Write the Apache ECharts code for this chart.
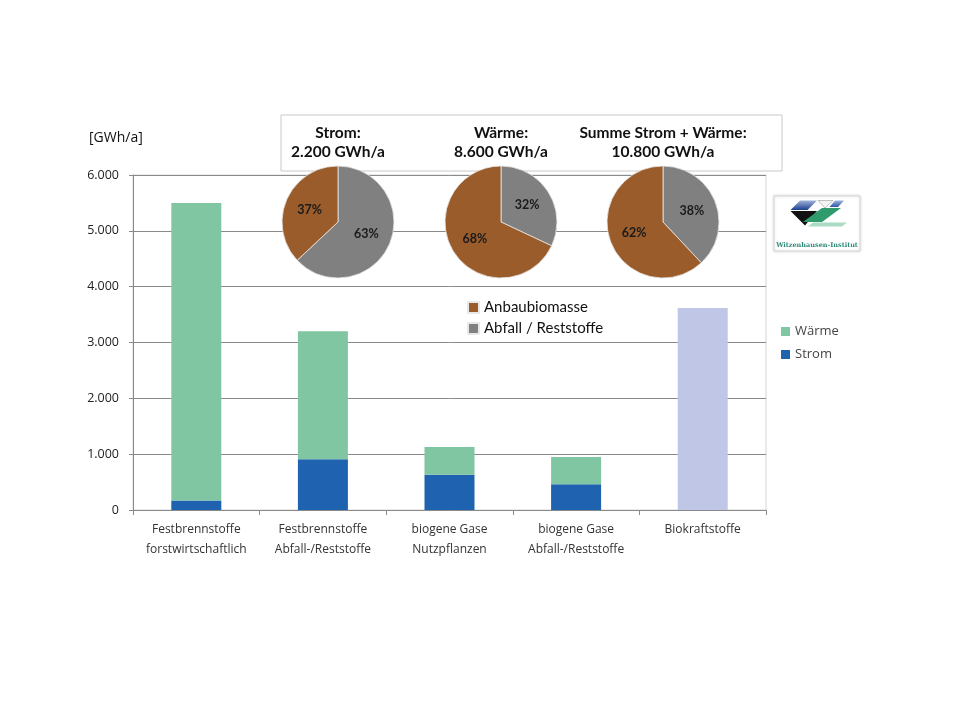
<!DOCTYPE html>
<html><head><meta charset="utf-8">
<script src="https://cdn.jsdelivr.net/npm/echarts@6/dist/echarts.min.js"></script>
<style>html,body{margin:0;padding:0;background:#fff}#c{width:960px;height:720px}</style>
</head><body><div id="c"></div>
<script>
// ---- data ----
var categories = ['Festbrennstoffe\nforstwirtschaftlich','Festbrennstoffe\nAbfall-/Reststoffe','biogene Gase\nNutzpflanzen','biogene Gase\nAbfall-/Reststoffe','Biokraftstoffe'];
var stromValues = [170, 910, 630, 460, null];
var waermeValues = [5330, 2290, 500, 490, null];
var biokraftValues = [null, null, null, null, 3620];
var yTicks = [0, 1000, 2000, 3000, 4000, 5000, 6000];
var pieNames = ['Abfall / Reststoffe', 'Anbaubiomasse'];
var pieStrom = [63, 37];
var pieWaerme = [32, 68];
var pieSumme = [38, 62];
var pieTitles = ['Strom:', 'Wärme:', 'Summe Strom + Wärme:'];
var pieTotals = ['2.200 GWh/a', '8.600 GWh/a', '10.800 GWh/a'];
var yUnit = '[GWh/a]';
var logoText = 'Witzenhausen-Institut';

// ---- styles ----
var FONT = 'Lato, "Open Sans", sans-serif';
var FONT2 = '"Open Sans", Lato, sans-serif';
var cGreen = '#80C6A2', cBlue = '#1F63B0', cLav = '#BFC6E6';
var cBrown = '#9A5C2B', cGray = '#808080';
var pieCenters = [[338, 222], [501, 222], [663, 222]];
var pieData = [pieStrom, pieWaerme, pieSumme];

function pieSeries(i) {
  return {
    type: 'pie', z: 5, center: pieCenters[i], radius: 56, startAngle: 90, clockwise: true,
    animation: false, legendHoverLink: false,
    itemStyle: { borderColor: '#e8e8e8', borderWidth: 0.8 },
    label: { show: true, position: 'inside', formatter: '{c}%', color: '#1a1a1a', fontSize: 12.5, fontFamily: FONT, fontWeight: 'bold' },
    labelLine: { show: false },
    data: pieNames.map(function (n, k) {
      return { name: n, value: pieData[i][k], itemStyle: { color: n === 'Anbaubiomasse' ? cBrown : cGray } };
    })
  };
}

var graphics = [
  { type: 'rect', z: 0, shape: { x: 281, y: 115, width: 501, height: 56 }, style: { fill: '#fff', stroke: '#c9c9c9', lineWidth: 1 } },
  { type: 'text', left: 89, top: 131, style: { text: yUnit, font: '14px ' + FONT2, fill: '#111' } }
];
pieTitles.forEach(function (t, i) {
  graphics.push({ type: 'text', z: 1, x: pieCenters[i][0], y: 133, style: { text: t, textAlign: 'center', textVerticalAlign: 'middle', font: 'bold 15.5px ' + FONT, fill: '#111' } });
  graphics.push({ type: 'text', z: 1, x: pieCenters[i][0], y: 152, style: { text: pieTotals[i], textAlign: 'center', textVerticalAlign: 'middle', font: 'bold 15.5px ' + FONT, fill: '#111' } });
});
// logo
graphics.push(
  { type: 'rect', z: 1, shape: { x: 774, y: 196, width: 86, height: 55 }, style: { fill: '#fff', stroke: '#d6d6d6', lineWidth: 1, shadowBlur: 3, shadowColor: 'rgba(0,0,0,0.15)' } },
  { type: 'polygon', z: 2, shape: { points: [[800, 200.5], [817, 200.5], [807.5, 210], [790.5, 210]] }, style: { fill: new echarts.graphic.LinearGradient(0, 0, 0, 1, [{ offset: 0, color: '#9fb3d9' }, { offset: 1, color: '#1d3f8f' }]) } },
  { type: 'polygon', z: 2, shape: { points: [[818, 200.5], [833, 200.5], [825, 208]] }, style: { fill: '#f4f4f4', stroke: '#9a9a9a', lineWidth: 0.6 } },
  { type: 'polygon', z: 2, shape: { points: [[835, 200.5], [844, 200.5], [838, 207], [829.5, 207]] }, style: { fill: new echarts.graphic.LinearGradient(0, 0, 0, 1, [{ offset: 0, color: '#9fb3d9' }, { offset: 1, color: '#2b56a8' }]) } },
  { type: 'polygon', z: 2, shape: { points: [[790.5, 211], [817, 211], [805, 225.5]] }, style: { fill: '#111' } },
  { type: 'polygon', z: 3, shape: { points: [[822, 208], [841, 208], [822, 222], [803, 222]] }, style: { fill: '#2f9a6c' } },
  { type: 'polygon', z: 2, shape: { points: [[813, 222.5], [847, 222.5], [842, 226.5], [808, 226.5]] }, style: { fill: '#a9dcc2' } },
  { type: 'text', z: 3, x: 817, y: 245, style: { text: logoText, textAlign: 'center', textVerticalAlign: 'middle', font: 'bold 6.5px "DejaVu Serif", serif', fill: '#2e8b78' } }
);

var chart = echarts.init(document.getElementById('c'), null, { renderer: 'canvas' });
chart.setOption({
  animation: false,
  backgroundColor: '#fff',
  textStyle: { fontFamily: FONT },
  grid: { left: 133, right: 194, top: 175, bottom: 210, show: true, borderColor: '#d4d4d4', borderWidth: 1, backgroundColor: 'transparent' },
  legend: [
    { data: ['Wärme', 'Strom'], orient: 'vertical', left: 776, top: 320, itemWidth: 9, itemHeight: 9, itemGap: 10, icon: 'rect',
      textStyle: { fontSize: 13, color: '#444', fontFamily: FONT2 }, selectedMode: false },
    { data: ['Anbaubiomasse', 'Abfall / Reststoffe'], orient: 'vertical', left: 462, top: 295, itemWidth: 11, itemHeight: 11, itemGap: 6, icon: 'rect',
      textStyle: { fontSize: 15, color: '#111', fontFamily: FONT }, selectedMode: false }
  ],
  xAxis: {
    type: 'category', data: categories, boundaryGap: true,
    axisLine: { lineStyle: { color: '#8a8a8a', width: 1 } },
    axisTick: { show: true, length: 5, lineStyle: { color: '#8a8a8a' } },
    axisLabel: { color: '#333', fontSize: 12, lineHeight: 20, margin: 10, fontFamily: FONT2, interval: 0 }
  },
  yAxis: {
    type: 'value', min: 0, max: 6000, interval: 1000,
    axisLine: { show: true, lineStyle: { color: '#8a8a8a' } },
    axisTick: { show: true, length: 4, inside: false, lineStyle: { color: '#8a8a8a' } },
    splitLine: { lineStyle: { color: '#8a8a8a', width: 1 } },
    axisLabel: { color: '#222', fontSize: 12.5, margin: 14, fontFamily: FONT2,
      formatter: function (v) { return v === 0 ? '0' : (v / 1000).toFixed(3); } }
  },
  series: [
    { name: 'Strom', type: 'bar', stack: 'a', barWidth: 50, data: stromValues, itemStyle: { color: cBlue } },
    { name: 'Wärme', type: 'bar', stack: 'a', barWidth: 50, data: waermeValues, itemStyle: { color: cGreen } },
    { name: 'Biokraftstoffe', type: 'bar', stack: 'a', barWidth: 50, data: biokraftValues, itemStyle: { color: cLav } },
    pieSeries(0), pieSeries(1), pieSeries(2)
  ],
  graphic: graphics
});
</script></body></html>
